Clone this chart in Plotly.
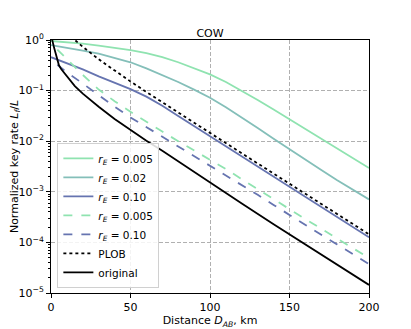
import plotly.graph_objects as go
import numpy as np

# distances (km) and log10 of normalized key rate
dist = [0, 10, 20, 30, 40, 50, 60, 70, 80, 90, 100, 110, 120, 130, 140, 150, 160, 170, 180, 190, 200]
rate_005 = [-0.02, -0.04, -0.07, -0.11, -0.15, -0.20, -0.26, -0.34, -0.44, -0.555, -0.68,
            -0.83, -1.00, -1.185, -1.375, -1.57, -1.765, -1.96, -2.15, -2.34, -2.53]
rate_02 = [-0.10, -0.15, -0.21, -0.27, -0.35, -0.44, -0.56, -0.69, -0.83, -0.98, -1.14,
           -1.33, -1.53, -1.74, -1.95, -2.16, -2.37, -2.57, -2.77, -2.96, -3.15]
rate_10 = [-0.34, -0.46, -0.58, -0.72, -0.85, -0.97, -1.12, -1.30, -1.50, -1.70, -1.91,
           -2.11, -2.31, -2.51, -2.71, -2.91, -3.11, -3.31, -3.51, -3.71, -3.90]

dist_d = [4, 10, 20, 30, 40, 50, 60, 70, 80, 90, 100, 110, 120, 130, 140, 150, 160, 170, 180, 190, 200]
rate_005_d = [-0.19, -0.38, -0.69, -0.98, -1.21, -1.42, -1.62, -1.81, -2.00, -2.18, -2.36,
              -2.55, -2.75, -2.95, -3.15, -3.35, -3.54, -3.73, -3.92, -4.12, -4.31]
rate_10_d = [-0.49, -0.64, -0.86, -1.09, -1.32, -1.53, -1.72, -1.91, -2.10, -2.29, -2.48,
             -2.67, -2.87, -3.06, -3.26, -3.46, -3.65, -3.85, -4.04, -4.24, -4.43]

dist_plob = [10, 15, 20, 25, 30, 35, 40, 45, 50, 60, 70, 80, 90, 100, 120, 140, 160, 180, 200]
plob = [0.158, 0.0, -0.135, -0.261, -0.38, -0.493, -0.605, -0.712, -0.818, -1.027, -1.232,
        -1.435, -1.637, -1.839, -2.24, -2.64, -3.04, -3.44, -3.84]

dist_orig = [0, 1, 2, 3, 4, 5, 6.5, 8, 10, 15, 20, 30, 40, 50, 60, 70, 80, 90, 100,
             120, 140, 160, 180, 200]
orig = [0.1, -0.05, -0.16, -0.27, -0.39, -0.50, -0.58, -0.64, -0.71, -0.91, -1.06, -1.32,
        -1.56, -1.78, -1.99, -2.19, -2.40, -2.61, -2.82, -3.23, -3.64, -4.04, -4.44, -4.84]

GREEN = "#8fe3b0"
TEAL = "#84bfb9"
BLUE = "#6674b0"

lbl = lambda v: "<i>r<sub>E</sub></i> = " + v

series = [
    (dist, rate_005, lbl("0.005"), GREEN, "solid"),
    (dist, rate_02, lbl("0.02"), TEAL, "solid"),
    (dist, rate_10, lbl("0.10"), BLUE, "solid"),
    (dist_d, rate_005_d, lbl("0.005"), GREEN, "dash"),
    (dist_d, rate_10_d, lbl("0.10"), BLUE, "dash"),
    (dist_plob, plob, "PLOB", "black", "dot"),
    (dist_orig, orig, "original", "black", "solid"),
]

fig = go.Figure()
for x, y, name, col, dash in series:
    fig.add_trace(go.Scatter(x=x, y=np.power(10.0, y), mode="lines", name=name,
                             line=dict(color=col, width=1.8, dash=dash)))

ytv = [10.0 ** e for e in range(-5, 1)]
ytt = ["10<sup>%s</sup>" % (str(e).replace("-", "\u2212")) for e in range(-5, 1)]
minor_vals = [k * 10.0 ** e for e in range(-5, 0) for k in range(2, 10)]

grid = dict(showgrid=True, gridcolor="#b0b0b0", gridwidth=1, griddash="4px,2px",
            showline=True, linecolor="black", linewidth=1, mirror=True,
            ticks="outside", ticklen=4, tickcolor="black", zeroline=False,
            automargin=False, tickfont=dict(size=11, color="black"))

# the page body has an 8px margin, so the figure is a bit smaller and margins shifted
fig.update_layout(
    width=403, height=321,
    margin=dict(l=43, r=42, t=32, b=36),
    paper_bgcolor="white", plot_bgcolor="white",
    font=dict(family="DejaVu Sans", size=11, color="black"),
    title=dict(text="COW", x=0.5, xref="paper", y=1, yref="paper",
               yanchor="bottom", xanchor="center", pad=dict(b=3), font=dict(size=11)),
    xaxis=dict(range=[0, 200], tickvals=[0, 50, 100, 150, 200],
               title=dict(text="Distance <i>D<sub>AB</sub></i>, km", standoff=2,
                          font=dict(size=11)), **grid),
    yaxis=dict(type="log", range=[-5, 0], tickvals=ytv, ticktext=ytt,
               minor=dict(tickvals=minor_vals, ticks="outside", ticklen=2,
                          tickcolor="black", showgrid=False),
               title=dict(text="Normalized key rate <i>L<sub>f</sub></i>/<i>L</i>", standoff=4,
                          font=dict(size=11)), **grid),
    legend=dict(x=0.02, y=0.02, xanchor="left", yanchor="bottom",
                bgcolor="rgba(255,255,255,0.85)", bordercolor="#d0d0d0", borderwidth=1,
                font=dict(size=10.5), tracegroupgap=0),
    showlegend=True,
)

fig.write_html("out.html")
